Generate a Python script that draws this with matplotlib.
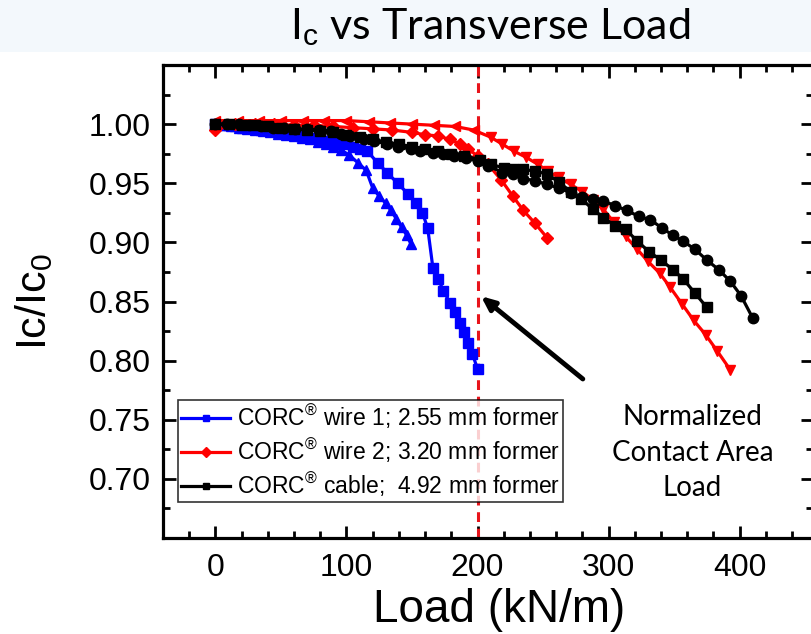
import matplotlib
matplotlib.use("Agg")
import matplotlib.pyplot as plt
from matplotlib.patches import Rectangle
from matplotlib.ticker import MultipleLocator
from matplotlib.lines import Line2D

plt.rcParams['font.family'] = ['Liberation Sans', 'DejaVu Sans']
plt.rcParams['mathtext.fontset'] = 'custom'
plt.rcParams['mathtext.rm'] = 'Liberation Sans'
plt.rcParams['mathtext.it'] = 'Liberation Sans'

# ---- data ----
wire1a_x = [0,5,10,15,20,25,30,35,40,45,50,55,60,65,70,75,80,85,90,95,100,105,110,
            116,124,131,139,147,153,158,162,166,170,174,179,183,187,190,193,196,200]
wire1a_y = [1.000,0.999,0.999,0.998,0.997,0.997,0.996,0.995,0.995,0.994,0.993,0.992,0.991,
            0.990,0.989,0.988,0.987,0.986,0.985,0.984,0.983,0.981,0.979,
            0.977,0.967,0.959,0.950,0.941,0.933,0.925,0.912,0.878,0.869,0.859,0.849,0.841,
            0.832,0.824,0.815,0.806,0.793]

wire1b_x = [0,6,12,18,24,30,36,42,48,54,60,66,72,78,84,90,96,102,109,115,120,125,130,134,138,142,146,149]
wire1b_y = [1.000,0.999,0.998,0.997,0.996,0.995,0.994,0.993,0.992,0.991,0.990,0.988,0.987,0.985,
            0.983,0.981,0.978,0.974,0.967,0.961,0.946,0.939,0.933,0.927,0.920,0.913,0.906,0.899]

wire2a_x = [0,15,30,45,60,75,90,105,120,135,150,160,170,179,187,193,200,208,218,227,235,244,253]
wire2a_y = [0.995,1.000,1.000,1.000,0.999,0.999,0.998,0.997,0.996,0.995,0.993,0.991,0.990,0.987,
            0.983,0.979,0.973,0.966,0.953,0.939,0.927,0.916,0.904]

wire2b_x1 = [0,17,33,50,67,83,100,117,133,150,167,183,197]
wire2b_y1 = [1.003,1.003,1.003,1.003,1.003,1.003,1.003,1.002,1.001,1.000,0.999,0.998,0.995]
wire2b_x2 = [210,219,228,237,246,254,262,271,280,288,296,304,313,322,330,339,347,356,365,374,383,393]
wire2b_y2 = [0.989,0.983,0.977,0.972,0.966,0.960,0.955,0.949,0.943,0.936,0.928,0.917,0.905,0.894,
             0.884,0.874,0.862,0.848,0.834,0.822,0.808,0.792]

cable_sq_x = [0,10,20,30,40,50,60,70,80,90,100,110,120,130,140,150,160,170,180,190,
              202,210,220,227,235,244,253,262,271,279,288,296,305,313,322,331,340,349,357,366,375]
cable_sq_y = [1.000,1.000,0.999,0.999,0.998,0.997,0.996,0.995,0.994,0.993,0.991,0.989,0.987,0.985,
              0.983,0.981,0.979,0.977,0.975,0.973,
              0.970,0.966,0.963,0.962,0.962,0.960,0.958,0.951,0.943,0.937,0.928,0.921,0.914,0.911,
              0.901,0.892,0.885,0.877,0.869,0.857,0.845]

cable_ci_x = [0,9,18,26,35,44,52,61,70,79,88,96,103,113,121,131,139,149,156,166,174,182,191,200,
              208,219,227,235,244,253,262,271,280,288,296,305,314,323,332,341,349,357,366,375,
              384,393,401,410]
cable_ci_y = [1.000,1.000,1.000,0.999,0.998,0.997,0.997,0.996,0.996,0.995,0.994,0.992,0.990,
              0.987,0.986,0.983,0.981,0.979,0.977,0.976,0.975,0.973,0.971,0.969,
              0.965,0.959,0.958,0.954,0.952,0.949,0.946,0.942,0.938,0.937,0.935,0.931,0.927,0.922,
              0.919,0.912,0.906,0.901,0.894,0.885,0.877,0.867,0.855,0.836]

legend_labels = [r'CORC$^{\mathrm{®}}$ wire 1; 2.55 mm former',
                 r'CORC$^{\mathrm{®}}$ wire 2; 3.20 mm former',
                 r'CORC$^{\mathrm{®}}$ cable;  4.92 mm former']
title_text = r'I$_{\mathrm{c}}$ vs Transverse Load'
note_text = 'Normalized\nContact Area\nLoad'
xticks = [0, 100, 200, 300, 400]
yticks = [0.70, 0.75, 0.80, 0.85, 0.90, 0.95, 1.00]
ref_load = 200

W, H = 811, 634
fig = plt.figure(figsize=(W/100, H/100), dpi=100)
fig.patches.append(Rectangle((0, 1 - 52/H), 1, 52/H, transform=fig.transFigure,
                             facecolor='#F3F8FC', edgecolor='none', zorder=0))
fig.text(490/W, 1 - 27/H, title_text, ha='center', va='center', fontsize=31,
         family=['Lato', 'DejaVu Sans'])

ax = fig.add_axes([163/W, (H-538)/H, (813-163)/W, (538-65)/H])
lw = 2.3
ax.plot(wire1a_x, wire1a_y, color='#0000FF', lw=lw, marker='s', ms=6.5, zorder=3)
ax.plot(wire1b_x, wire1b_y, color='#0000FF', lw=lw, marker='^', ms=7.5, zorder=3)
ax.plot(wire2a_x, wire2a_y, color='#FF0000', lw=lw, marker='D', ms=6, zorder=4)
ax.plot(wire2b_x1 + wire2b_x2, wire2b_y1 + wire2b_y2, color='#FF0000', lw=lw, zorder=4)
ax.plot(wire2b_x1, wire2b_y1, color='#FF0000', lw=0, marker='<', ms=7.5, zorder=4)
ax.plot(wire2b_x2, wire2b_y2, color='#FF0000', lw=0, marker='v', ms=7.5, zorder=4)
ax.plot(cable_sq_x, cable_sq_y, color='black', lw=lw, marker='s', ms=7, zorder=5)
ax.plot(cable_ci_x, cable_ci_y, color='black', lw=lw, marker='o', ms=7.5, zorder=5)

ax.axvline(ref_load, color='#E8141B', lw=2.2, ls=(0, (3.2, 2.2)), zorder=2)

ax.set_xlim(-40, 456)
ax.set_ylim(0.65, 1.05)
ax.set_xticks(xticks)
ax.set_yticks(yticks)
ax.set_yticklabels([f'{v:.2f}' for v in yticks])
ax.xaxis.set_minor_locator(MultipleLocator(20))
ax.yaxis.set_minor_locator(MultipleLocator(0.025))
ax.tick_params(which='both', direction='in', top=True, right=True, width=2, labelsize=23)
ax.tick_params(axis='y', which='major', length=9, pad=9)
ax.tick_params(axis='x', which='major', length=9, pad=11)
ax.tick_params(which='minor', length=5)
for s in ax.spines.values():
    s.set_linewidth(2.3)

ax.set_xlabel('Load (kN/m)', fontsize=33)
ax.xaxis.set_label_coords((499 - 163) / (813 - 163), (538 - 622) / (538 - 65))
ax.xaxis.label.set_va('baseline')
ax.set_ylabel(r'Ic/Ic$_0$', fontsize=31, labelpad=24)

handles = [Line2D([], [], color='#0000FF', lw=lw, marker='s', ms=5),
           Line2D([], [], color='#FF0000', lw=lw, marker='D', ms=5),
           Line2D([], [], color='black', lw=lw, marker='s', ms=5)]
leg = ax.legend(handles, legend_labels, loc='lower left', bbox_to_anchor=(0.023, 0.076),
                fontsize=16.5, frameon=True, fancybox=False, edgecolor='black',
                handlelength=2.15, handletextpad=0.3, labelspacing=0.25, borderpad=0.13,
                borderaxespad=0)
leg.get_frame().set_linewidth(1.2)
leg.set_zorder(6)

ax.annotate('', xy=(201, 0.856), xytext=(282, 0.783),
            arrowprops=dict(arrowstyle='-|>,head_length=0.8,head_width=0.35', color='black', lw=3.5))
ax.text(364, 0.722, note_text, ha='center', va='center', fontsize=20,
        family=['Lato', 'DejaVu Sans'], linespacing=1.45)

fig.savefig('out.png', dpi=100)
